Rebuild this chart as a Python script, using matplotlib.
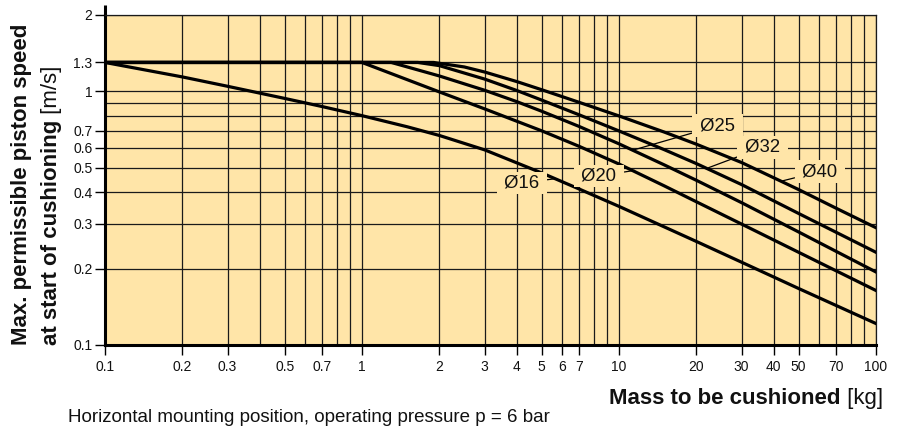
import matplotlib
matplotlib.use("Agg")
import matplotlib.pyplot as plt
from matplotlib.ticker import FixedLocator, FixedFormatter, NullFormatter

plt.rcParams['font.family'] = ['Liberation Sans', 'DejaVu Sans']

# ---------------- data ----------------
mass_16 = [0.1, 0.2, 0.3, 0.5, 0.7, 1, 1.5, 2, 3, 5, 7, 10, 20, 30, 50, 100]
speed_16 = [1.3, 1.14, 1.047, 0.938, 0.871, 0.802, 0.725, 0.67, 0.588, 0.477, 0.412,
            0.352, 0.256, 0.212, 0.167, 0.1215]

mass_20 = [0.1, 1, 2, 3, 5, 7, 10, 15, 20, 30, 50, 100]
speed_20 = [1.3, 1.3, 0.995, 0.853, 0.699, 0.607, 0.517, 0.424, 0.367, 0.2997, 0.232, 0.164]

mass_25 = [0.1, 1.3, 2, 3, 4, 5, 7, 10, 15, 20, 30, 50, 100]
speed_25 = [1.3, 1.3, 1.15, 1.01, 0.911, 0.835, 0.727, 0.621, 0.513, 0.446, 0.364, 0.279, 0.194]

mass_32 = [0.1, 1.65, 2, 3, 4, 5, 7, 10, 15, 20, 30, 50, 100]
speed_32 = [1.3, 1.3, 1.263, 1.118, 1.008, 0.924, 0.808, 0.698, 0.589, 0.519, 0.429, 0.33, 0.232]

mass_40 = [0.1, 1.9, 2.5, 3, 4, 5, 7, 10, 15, 20, 30, 50, 70, 100]
speed_40 = [1.3, 1.3, 1.248, 1.192, 1.093, 1.015, 0.905, 0.80, 0.691, 0.619, 0.524, 0.41,
            0.346, 0.29]

series_names = ['Ø16', 'Ø20', 'Ø25', 'Ø32', 'Ø40']
label_x = [4.19, 8.36, 24.2, 36.2, 60.5]
label_y = [0.435, 0.464, 0.732, 0.601, 0.483]
leader_x = [5.6, 11.5, 11.3, 22.3, 43]
leader_y = [0.452, 0.488, 0.586, 0.50, 0.443]

x_ticks = [0.1, 0.2, 0.3, 0.5, 0.7, 1, 2, 3, 4, 5, 6, 7, 10, 20, 30, 40, 50, 70, 100]
x_ticklabels = ['0.1', '0.2', '0.3', '0.5', '0.7', '1', '2', '3', '4', '5', '6', '7',
                '10', '20', '30', '40', '50', '70', '100']
x_grid_extra = [0.4, 0.6, 0.8, 0.9, 8, 9, 60, 80, 90]
y_ticks = [0.1, 0.2, 0.3, 0.4, 0.5, 0.6, 0.7, 1, 1.3, 2]
y_ticklabels = ['0.1', '0.2', '0.3', '0.4', '0.5', '0.6', '0.7', '1', '1.3', '2']
y_grid_extra = [0.8, 0.9]

# ---------------- figure ----------------
W, H = 904, 428
BG = '#FFE5A8'
fig = plt.figure(figsize=(W / 100, H / 100), dpi=100)
ax = fig.add_axes([105 / W, 1 - 345 / H, 771 / W, 330 / H])
ax.set_xscale('log')
ax.set_yscale('log')
ax.set_xlim(0.1, 100)
ax.set_ylim(0.1, 2)
ax.set_facecolor(BG)

ax.xaxis.set_major_locator(FixedLocator(x_ticks))
ax.xaxis.set_major_formatter(FixedFormatter(x_ticklabels))
ax.xaxis.set_minor_locator(FixedLocator(x_grid_extra))
ax.xaxis.set_minor_formatter(NullFormatter())
ax.yaxis.set_major_locator(FixedLocator(y_ticks))
ax.yaxis.set_major_formatter(FixedFormatter(y_ticklabels))
ax.yaxis.set_minor_locator(FixedLocator(y_grid_extra))
ax.yaxis.set_minor_formatter(NullFormatter())

ax.tick_params(which='minor', length=0)
ax.tick_params(which='major', length=7, width=1, color='black', labelsize=10,
               labelcolor='#111111')
ax.tick_params(axis='y', pad=2)
ax.tick_params(axis='x', pad=4)
ax.grid(which='both', color='#1a1a1a', lw=0.9)
ax.set_axisbelow(True)

for s in ['left', 'bottom']:
    ax.spines[s].set_linewidth(2.2)
    ax.spines[s].set_color('black')
for s in ['top', 'right']:
    ax.spines[s].set_linewidth(0.9)
    ax.spines[s].set_color('#1a1a1a')
# left axis line extends a little above the chart area
ax.plot([0, 0], [1, 1.03], transform=ax.transAxes, color='black', lw=2.2,
        clip_on=False, solid_capstyle='butt')

all_mass = [mass_16, mass_20, mass_25, mass_32, mass_40]
all_speed = [speed_16, speed_20, speed_25, speed_32, speed_40]
for m, v in zip(all_mass, all_speed):
    ax.plot(m, v, color='black', lw=2.3, solid_joinstyle='round', zorder=3)

for name, tx, ty, lx, ly in zip(series_names, label_x, label_y, leader_x, leader_y):
    ax.annotate(' ' + name + ' ', xy=(lx, ly), xytext=(tx, ty), textcoords='data',
                ha='center', va='center', fontsize=13.3, color='#111111',
                bbox=dict(boxstyle='square,pad=0.15', fc=BG, ec='none'),
                arrowprops=dict(arrowstyle='-', color='black', lw=0.9,
                                shrinkA=0, shrinkB=0),
                zorder=4)

# ---------------- axis titles ----------------
FS = 16
renderer = fig.canvas.get_renderer()

fig.text(27 / W, (H - 345) / H, 'Max. permissible piston speed', rotation=90,
         rotation_mode='anchor', ha='left', va='baseline', fontsize=FS,
         fontweight='bold', color='#111111')
t2 = fig.text(57 / W, (H - 345) / H, 'at start of cushioning', rotation=90,
              rotation_mode='anchor', ha='left', va='baseline', fontsize=FS,
              fontweight='bold', color='#111111')
bb = t2.get_window_extent(renderer)
fig.text(57 / W, bb.y1 / H, ' [m/s]', rotation=90, rotation_mode='anchor',
         ha='left', va='baseline', fontsize=FS, color='#111111')

t3 = fig.text(883 / W, 24 / H, ' [kg]', ha='right', va='baseline', fontsize=FS,
              color='#111111')
bb3 = t3.get_window_extent(renderer)
fig.text(bb3.x0 / W, 24 / H, 'Mass to be cushioned', ha='right', va='baseline',
         fontsize=FS, fontweight='bold', color='#111111')

fig.text(68 / W, 6.5 / H, 'Horizontal mounting position, operating pressure p = 6 bar',
         ha='left', va='baseline', fontsize=13.5, color='#111111')

fig.savefig('out.png', dpi=100, facecolor='white')
